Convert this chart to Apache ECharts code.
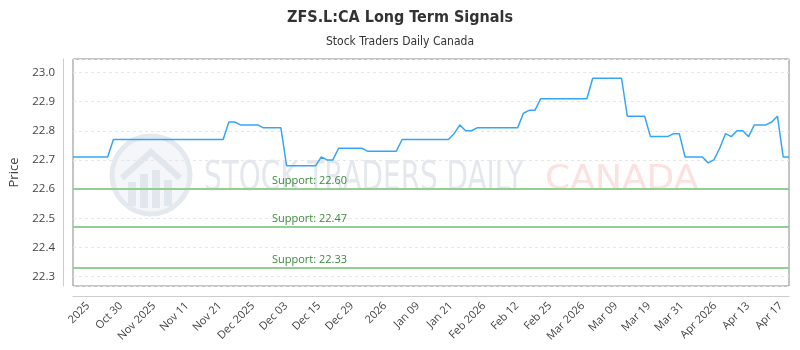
<!DOCTYPE html>
<html>
<head>
<meta charset="utf-8">
<script src="https://cdn.jsdelivr.net/npm/echarts@6/dist/echarts.min.js"></script>
<style>
	html, body { margin: 0; padding: 0; background: #fff; }
	#main { width: 800px; height: 350px; }
</style>
</head>
<body>
<div id="main"></div>
<script>
// price series, one point per session
var prices = [
	22.71, 22.71, 22.71, 22.71, 22.71, 22.71, 22.71,
	22.77, 22.77, 22.77, 22.77, 22.77, 22.77, 22.77, 22.77, 22.77, 22.77,
	22.77, 22.77, 22.77, 22.77, 22.77, 22.77, 22.77, 22.77, 22.77, 22.77,
	22.83, 22.83,
	22.82, 22.82, 22.82, 22.82,
	22.81, 22.81, 22.81, 22.81,
	22.68, 22.68, 22.68, 22.68, 22.68, 22.68,
	22.71,
	22.70, 22.70,
	22.74, 22.74, 22.74, 22.74, 22.74,
	22.73, 22.73, 22.73, 22.73, 22.73, 22.73,
	22.77, 22.77, 22.77, 22.77, 22.77, 22.77, 22.77, 22.77, 22.77,
	22.79,
	22.82,
	22.80, 22.80,
	22.81, 22.81, 22.81, 22.81, 22.81, 22.81, 22.81, 22.81,
	22.86,
	22.87, 22.87,
	22.91, 22.91, 22.91, 22.91, 22.91, 22.91, 22.91, 22.91, 22.91,
	22.98, 22.98, 22.98, 22.98, 22.98, 22.98,
	22.85, 22.85, 22.85, 22.85,
	22.78, 22.78, 22.78, 22.78,
	22.79, 22.79,
	22.71, 22.71, 22.71, 22.71,
	22.69,
	22.70,
	22.74,
	22.79,
	22.78,
	22.80, 22.80,
	22.78,
	22.82, 22.82, 22.82,
	22.83,
	22.85,
	22.71, 22.71
];
var categories = prices.map(function (v, i) { return String(i); });

// bottom axis labels (first slot is left empty)
var tickLabels = ['', '2025', 'Oct 30', 'Nov 2025', 'Nov 11', 'Nov 21', 'Dec 2025', 'Dec 03',
	'Dec 15', 'Dec 29', '2026', 'Jan 09', 'Jan 21', 'Feb 2026', 'Feb 12', 'Feb 25',
	'Mar 2026', 'Mar 09', 'Mar 19', 'Mar 31', 'Apr 2026', 'Apr 13', 'Apr 17'];

var supportLevels = [22.60, 22.47, 22.33];

var myChart = echarts.init(document.getElementById('main'));

var wmFont = "'DejaVu Sans Condensed', 'DejaVu Sans', sans-serif";
var logoGrey = '#e2e7ee';

option = {
	animation: false,
	title: {
		text: 'ZFS.L:CA Long Term Signals',
		subtext: 'Stock Traders Daily Canada',
		left: 'center',
		top: 5,
		itemGap: 10,
		textStyle: {
			fontFamily: "'DejaVu Sans Condensed', 'DejaVu Sans', sans-serif",
			fontSize: 16,
			fontWeight: 'bold',
			color: '#333'
		},
		subtextStyle: {
			fontFamily: "'DejaVu Sans Condensed', 'DejaVu Sans', sans-serif",
			fontSize: 12,
			color: '#333'
		}
	},
	// watermark
	graphic: [{
		type: 'circle',
		shape: { cx: 151, cy: 175, r: 39 },
		style: { fill: '#f4f6f9', stroke: '#e4e9ef', lineWidth: 5 },
		z: 0
	}, {
		type: 'polyline',
		shape: { points: [[122, 178], [151, 152], [180, 178]] },
		style: { stroke: logoGrey, lineWidth: 6, fill: null },
		z: 0
	}, {
		type: 'group',
		z: 0,
		children: [
			{ type: 'rect', shape: { x: 128, y: 182, width: 8, height: 24 }, style: { fill: logoGrey } },
			{ type: 'rect', shape: { x: 140, y: 174, width: 8, height: 34 }, style: { fill: logoGrey } },
			{ type: 'rect', shape: { x: 152, y: 170, width: 8, height: 38 }, style: { fill: logoGrey } },
			{ type: 'rect', shape: { x: 164, y: 180, width: 8, height: 26 }, style: { fill: logoGrey } }
		]
	}, {
		type: 'text',
		x: 204,
		y: 160,
		scaleX: 0.775,
		z: 0,
		style: {
			text: 'STOCK TRADERS DAILY',
			font: '40px ' + wmFont,
			fill: '#e4e8ee'
		}
	}, {
		type: 'text',
		x: 545,
		y: 163,
		scaleX: 1.18,
		z: 0,
		style: {
			text: 'CANADA',
			font: '34px ' + wmFont,
			fill: '#fde1e1'
		}
	}],
	grid: [{
		left: 71,
		right: 11,
		top: 59,
		bottom: 64,
		show: true,
		borderColor: '#888',
		borderWidth: 1,
		backgroundColor: 'transparent'
	}, {
		// only carries the rotated date labels
		left: 55,
		right: 19,
		top: 59,
		bottom: 64,
		show: false
	}],
	xAxis: [{
		type: 'category',
		gridIndex: 0,
		data: categories,
		boundaryGap: false,
		offset: 10,
		axisLine: { show: true, lineStyle: { color: '#ccc' } },
		axisTick: { show: false },
		axisLabel: { show: false },
		splitLine: { show: false }
	}, {
		type: 'category',
		gridIndex: 1,
		data: tickLabels,
		boundaryGap: false,
		position: 'bottom',
		offset: 10,
		axisLine: { show: false },
		axisTick: { show: false },
		splitLine: { show: false },
		axisLabel: {
			interval: 0,
			rotate: 45,
			margin: 8,
			fontFamily: "'Open Sans', sans-serif",
			fontSize: 11,
			color: '#444'
		}
	}],
	yAxis: [{
		type: 'value',
		gridIndex: 0,
		min: 22.268,
		max: 23.046,
		splitNumber: 8,
		offset: 10,
		name: 'Price',
		nameLocation: 'middle',
		nameGap: 42,
		nameTextStyle: {
			fontFamily: "'Open Sans', sans-serif",
			fontSize: 13,
			color: '#444'
		},
		axisLine: { show: true, lineStyle: { color: '#ccc' } },
		axisTick: { show: false },
		axisLabel: {
			showMinLabel: false,
			showMaxLabel: false,
			margin: 8,
			fontFamily: "'Open Sans', sans-serif",
			fontSize: 11.5,
			color: '#444',
			formatter: function (v) { return v.toFixed(1); }
		},
		splitLine: { lineStyle: { color: '#e6e6e6', type: [3, 3] } }
	}, {
		type: 'value',
		gridIndex: 1,
		show: false
	}],
	series: [{
		name: 'Price',
		type: 'line',
		xAxisIndex: 0,
		yAxisIndex: 0,
		data: prices,
		showSymbol: false,
		symbol: 'none',
		lineStyle: { color: '#36a5f5', width: 1.5 },
		z: 3,
		markLine: {
			silent: true,
			symbol: 'none',
			lineStyle: { color: '#93cf93', width: 2, type: 'solid' },
			label: {
				position: 'insideStartTop',
				distance: [199, 3],
				fontFamily: "'Open Sans', sans-serif",
				fontSize: 11,
				color: '#3c8a3c',
				formatter: function (p) { return 'Support: ' + p.value.toFixed(2); }
			},
			data: supportLevels.map(function (v) { return { yAxis: v }; })
		}
	}]
};
myChart.setOption(option);
</script>
</body>
</html>
